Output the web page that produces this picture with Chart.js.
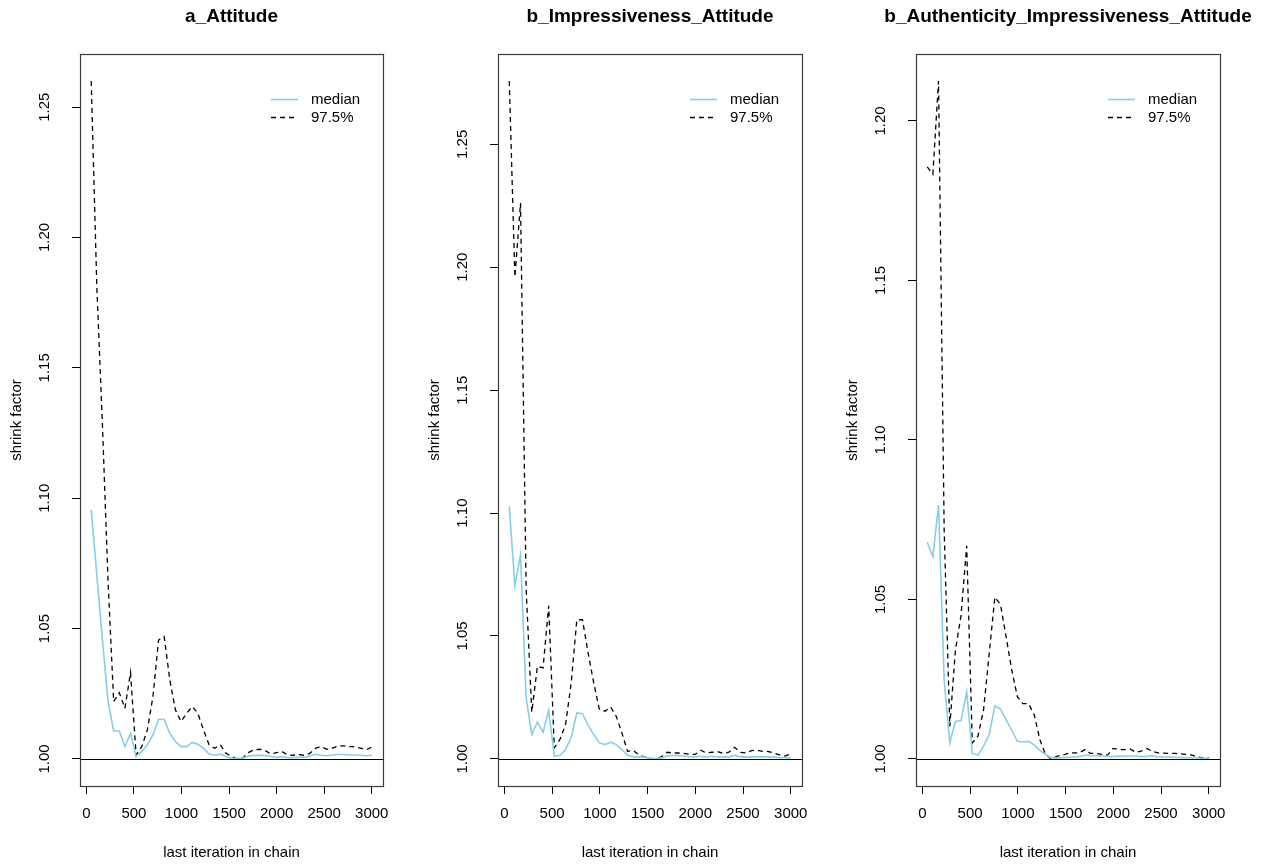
<!DOCTYPE html>
<html>
<head>
<meta charset="utf-8">
<script src="https://cdn.jsdelivr.net/npm/chart.js@4.4.1/dist/chart.umd.min.js"></script>
<style>
html,body{margin:0;padding:0;background:#fff;width:1269px;height:867px;overflow:hidden}
canvas{position:absolute;top:0}
</style>
</head>
<body>
<canvas id="c1" style="left:0px" width="418" height="867"></canvas>
<canvas id="c2" style="left:418px" width="418" height="867"></canvas>
<canvas id="c3" style="left:836px" width="433" height="867"></canvas>
<script>
// ---- data ----
const iterations = [51,110,169,228,287,346,405,464,523,582,641,700,759,818,877,936,995,1054,1113,1172,1231,1290,1349,1408,1467,1526,1585,1644,1703,1762,1821,1880,1939,1998,2057,2116,2175,2234,2293,2352,2411,2470,2529,2588,2647,2706,2765,2824,2883,2942,3000];

const panelTitles = ["a_Attitude", "b_Impressiveness_Attitude", "b_Authenticity_Impressiveness_Attitude"];
const seriesLabels = ["median", "97.5%"];

const medianA = [1.0955,1.0705,1.0456,1.022,1.0107,1.0107,1.0047,1.0098,1.0009,1.0028,1.0054,1.0092,1.0152,1.0152,1.0098,1.0066,1.0047,1.0047,1.0063,1.0056,1.0041,1.0019,1.0014,1.0018,1.0009,1.0003,1.0001,1.0003,1.001,1.0013,1.0014,1.0013,1.0009,1.0006,1.0008,1.0005,1.0005,1.0006,1.0006,1.0012,1.0018,1.0014,1.0012,1.0015,1.0017,1.0017,1.0015,1.0015,1.0014,1.0012,1.0014];
const upperA = [1.26,1.181,1.128,1.068,1.022,1.0254,1.0194,1.0331,1.0015,1.0047,1.0111,1.0239,1.0456,1.0469,1.0303,1.0188,1.0143,1.0175,1.0201,1.0175,1.0111,1.0054,1.0041,1.0054,1.0022,1.0009,1.0,1.0003,1.0024,1.0035,1.0037,1.0032,1.0019,1.0024,1.0028,1.0015,1.0014,1.0017,1.0013,1.0022,1.0041,1.0047,1.0037,1.0041,1.005,1.005,1.0047,1.0047,1.0041,1.0035,1.0045];

const medianB = [1.1027,1.0705,1.0831,1.0248,1.0099,1.0149,1.0108,1.0198,1.0011,1.0014,1.0038,1.0088,1.0187,1.0184,1.0137,1.0099,1.0065,1.0058,1.0068,1.0058,1.0038,1.0016,1.0008,1.0009,1.0007,1.0003,1.0,1.0004,1.0012,1.0014,1.0014,1.0012,1.0009,1.0008,1.0011,1.0008,1.0011,1.0008,1.0008,1.0008,1.0015,1.0008,1.0007,1.0008,1.0009,1.0008,1.0008,1.0007,1.0005,1.0005,1.0004];
const upperB = [1.2757,1.196,1.2261,1.069,1.019,1.0377,1.037,1.0623,1.0045,1.0079,1.014,1.0309,1.0566,1.0566,1.0431,1.0309,1.0201,1.0194,1.0211,1.0173,1.0106,1.0031,1.0035,1.0016,1.0008,1.0,1.0001,1.0008,1.0027,1.0024,1.0024,1.0022,1.0019,1.0018,1.0035,1.0024,1.0027,1.003,1.0022,1.0027,1.0047,1.0027,1.0024,1.0034,1.0035,1.0031,1.003,1.0024,1.0016,1.0011,1.002];

const medianC = [1.0679,1.0634,1.0796,1.0247,1.005,1.0117,1.012,1.0211,1.0017,1.0012,1.004,1.0076,1.0166,1.0156,1.0123,1.0089,1.0055,1.0053,1.0055,1.0043,1.0026,1.0014,1.0003,1.0003,1.0004,1.0005,1.0006,1.0007,1.0012,1.001,1.001,1.0009,1.0008,1.0007,1.0009,1.0008,1.0009,1.0009,1.0007,1.0008,1.001,1.0006,1.0006,1.0006,1.0005,1.0004,1.0004,1.0003,1.0003,1.0002,1.0001];
const upperC = [1.1856,1.1833,1.2125,1.072,1.0102,1.0341,1.045,1.0668,1.005,1.0071,1.0154,1.033,1.0507,1.0484,1.0383,1.0279,1.0195,1.0173,1.0173,1.0138,1.006,1.0014,1.0,1.0008,1.0012,1.0017,1.0019,1.0019,1.0029,1.0017,1.0017,1.0014,1.0012,1.0033,1.0029,1.0029,1.0031,1.0021,1.0024,1.0033,1.0023,1.0019,1.0018,1.0017,1.0017,1.0016,1.0014,1.0012,1.0006,1.0002,1.0003];

const xTicks = [0,500,1000,1500,2000,2500,3000];
const yTicksA = [1.00,1.05,1.10,1.15,1.20,1.25];
const yTicksB = [1.00,1.05,1.10,1.15,1.20,1.25];
const yTicksC = [1.00,1.05,1.10,1.15,1.20];

// ---- rendering ----
const FONT = '"Liberation Sans", Arial, Helvetica, sans-serif';
Chart.defaults.font.family = FONT;
Chart.defaults.color = '#000';

function rRange(vals) {
  const lo = Math.min(...vals), hi = Math.max(...vals), d = (hi - lo) * 0.04;
  return [lo - d, hi + d];
}

const rPlot = {
  id: 'rPlot',
  afterDatasetsDraw(chart, args, opts) {
    const {ctx, chartArea: a, scales: {y}} = chart;
    ctx.save();
    // reference line at 1
    const y1 = Math.round(y.getPixelForValue(1)) + 0.5;
    ctx.strokeStyle = '#000'; ctx.lineWidth = 1.2; ctx.setLineDash([]);
    ctx.beginPath(); ctx.moveTo(a.left, y1); ctx.lineTo(a.right, y1); ctx.stroke();
    // box
    ctx.strokeStyle = '#3a3a3a'; ctx.lineWidth = 1.2;
    ctx.strokeRect(Math.round(a.left) + 0.5, Math.round(a.top) + 0.5, Math.round(a.width), Math.round(a.height));
    // rotated y tick labels
    ctx.fillStyle = '#000';
    ctx.font = '15px ' + FONT;
    ctx.textAlign = 'center'; ctx.textBaseline = 'middle';
    for (const v of opts.yTicks) {
      const py = y.getPixelForValue(v);
      ctx.save(); ctx.translate(a.left - 35, py); ctx.rotate(-Math.PI / 2);
      ctx.fillText(v.toFixed(2), 0, 0); ctx.restore();
    }
    // title
    ctx.font = 'bold 19px ' + FONT;
    ctx.fillText(opts.title, (a.left + a.right) / 2, 17);
    // legend
    ctx.font = '15px ' + FONT;
    ctx.textAlign = 'left';
    const ds = chart.data.datasets;
    const rows = [a.top + 44.5, a.top + 63];
    ds.forEach((d, i) => {
      const ry = Math.round(rows[i]) + 0.5;
      ctx.strokeStyle = d.borderColor; ctx.lineWidth = d.borderWidth;
      ctx.setLineDash(d.borderDash || []);
      ctx.beginPath(); ctx.moveTo(a.right - 112, ry); ctx.lineTo(a.right - 85, ry); ctx.stroke();
      ctx.setLineDash([]);
      ctx.fillText(d.label, a.right - 72, ry);
    });
    ctx.restore();
  }
};

function makePanel(id, title, med, upper, yTicks, rightPad) {
  const xr = rRange(iterations);
  const yr = rRange(med.concat(upper));
  const font = {family: FONT, size: 15};
  new Chart(document.getElementById(id), {
    type: 'line',
    data: {
      datasets: [
        {label: seriesLabels[0], data: iterations.map((x, i) => ({x, y: med[i]})),
         borderColor: '#87CEEB', borderWidth: 1.6, pointRadius: 0, tension: 0, fill: false},
        {label: seriesLabels[1], data: iterations.map((x, i) => ({x, y: upper[i]})),
         borderColor: '#000000', borderWidth: 1.3, borderDash: [5, 4], pointRadius: 0, tension: 0, fill: false}
      ]
    },
    options: {
      responsive: false, animation: false, devicePixelRatio: 1,
      layout: {padding: {left: 0, right: rightPad, top: 54, bottom: 0}},
      plugins: {
        legend: {display: false}, tooltip: {enabled: false}, title: {display: false},
        rPlot: {title, yTicks}
      },
      scales: {
        x: {
          type: 'linear', min: xr[0], max: xr[1],
          afterBuildTicks: s => { s.ticks = xTicks.map(v => ({value: v})); },
          afterFit: s => { s.height = 81; },
          ticks: {font, color: '#000', padding: 11, maxRotation: 0, autoSkip: false, callback: v => String(v)},
          grid: {drawOnChartArea: false, drawTicks: true, tickLength: 8, color: '#000', lineWidth: 1},
          border: {display: false},
          title: {display: true, text: 'last iteration in chain', font, color: '#000', padding: {top: 0, bottom: 5}}
        },
        y: {
          type: 'linear', min: yr[0], max: yr[1],
          afterBuildTicks: s => { s.ticks = yTicks.map(v => ({value: v})); },
          afterFit: s => { s.width = 80; },
          ticks: {display: false},
          grid: {drawOnChartArea: false, drawTicks: true, tickLength: 8, color: '#000', lineWidth: 1},
          border: {display: false},
          title: {display: true, text: 'shrink factor', font, color: '#000', padding: {top: 8, bottom: 0}}
        }
      }
    },
    plugins: [rPlot]
  });
}

makePanel('c1', panelTitles[0], medianA, upperA, yTicksA, 35);
makePanel('c2', panelTitles[1], medianB, upperB, yTicksB, 34);
makePanel('c3', panelTitles[2], medianC, upperC, yTicksC, 49);
</script>
</body>
</html>
